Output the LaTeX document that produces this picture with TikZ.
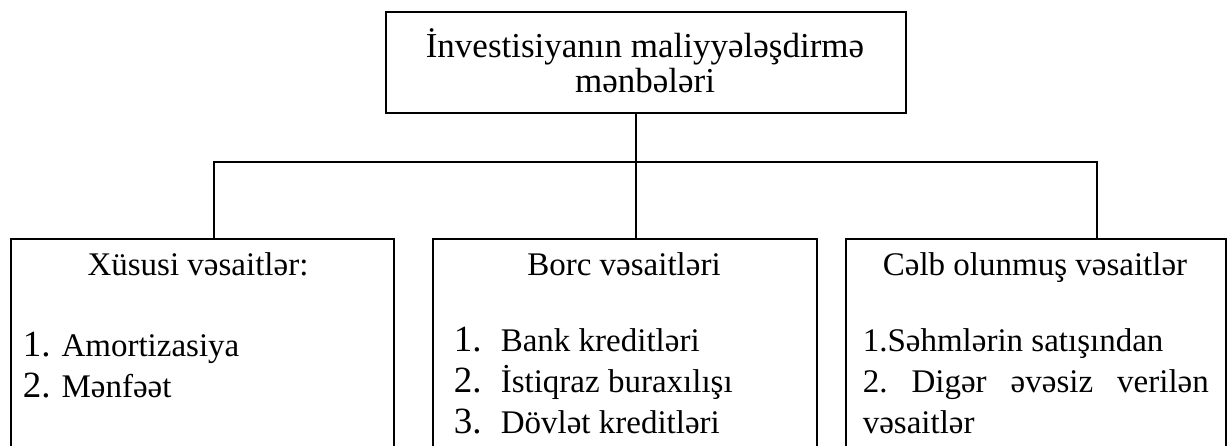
\documentclass[tikz,border=0pt]{standalone}
\usepackage{fontspec}
\setmainfont{Liberation Serif}
\usetikzlibrary{positioning}
\tikzset{box/.style = {draw, anchor=north west, inner sep=0pt}}
\tikzset{head/.style = {anchor=base, inner sep=0pt, font=\fontsize{16.5}{19}\selectfont}}
\tikzset{title/.style = {head, font=\fontsize{17.5}{19}\selectfont}}
\tikzset{item/.style = {anchor=base west, inner sep=0pt, font=\fontsize{16.5}{19}\selectfont}}
\newcommand{\itemnum}[1]{{\fontsize{18.5}{19}\selectfont #1}}

\begin{document}
\begin{tikzpicture}[x=0.5pt, y=-0.5pt, line width=0.8pt]
  \useasboundingbox (0,0) rectangle (1229,445);
  \clip (0,0) rectangle (1229,445);

  % boxes
  \node [box, minimum width=260pt, minimum height=50.5pt] (sources) at (385,11) {};
  \node [box, minimum width=191.5pt, minimum height=130pt] (own) at (10,238) {};
  \node [box, minimum width=192pt, minimum height=130pt] (loan) at (432,238) {};
  \node [box, minimum width=190pt, minimum height=130pt] (raised) at (845,238) {};

  \node [title] (title1) at (645,57) {İnvestisiyanın maliyyələşdirmə};
  \node [title] (title2) at (645,92) {mənbələri};

  \node [head] (ownhead) at (198,275) {Xüsusi vəsaitlər:};
  \node [head] (loanhead) at (624,275) {Borc vəsaitləri};
  \node [head] (raisedhead) at (1035,275) {Cəlb olunmuş vəsaitlər};

  \node [item] (own1) at (22,356) {\itemnum{1.} Amortizasiya};
  \node [item] (own2) at (22,397) {\itemnum{2.} Mənfəət};

  \foreach \n/\t [count=\i] in {1/Bank kreditləri, 2/İstiqraz buraxılışı, 3/Dövlət kreditləri} {
    \node [item] (loannum\i) at (453, 310+41*\i) {\itemnum{\n.}};
    \node [item] (loan\i) at (500, 310+41*\i) {\t};
  }

  \node [item] (raised1) at (862,351) {1.Səhmlərin satışından};
  \node [item] (raised2) at (862,392) {\hbox to 173pt{2.\hfil Digər\hfil əvəsiz\hfil verilən}};
  \node [item] (raised3) at (862,433) {vəsaitlər};

  % connectors
  \coordinate (fork) at (635,162);
  \draw ([xshift=-5pt]sources.south) -- ([xshift=-5pt]sources.south |- loan.north);
  \draw ([xshift=5.75pt]own.north) |- (fork) -| ([xshift=30.5pt]raised.north);
\end{tikzpicture}
\end{document}
